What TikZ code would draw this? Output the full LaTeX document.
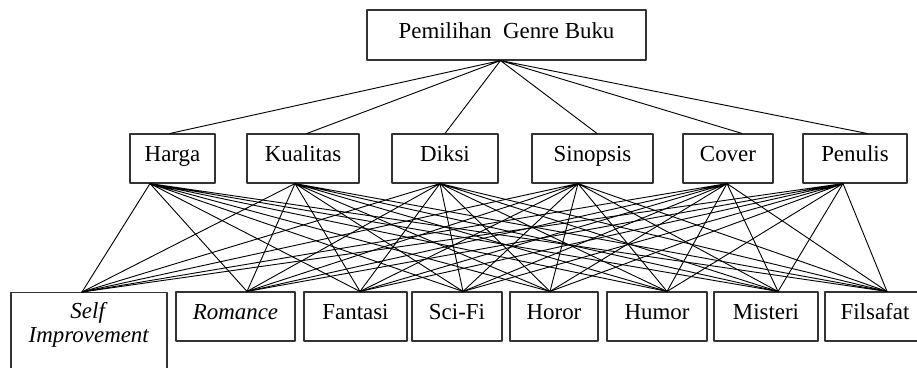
\documentclass[tikz,border=0pt]{standalone}
\usepackage{fontspec}
\setmainfont{Liberation Serif}
\usetikzlibrary{calc}

\tikzset{
  box/.style={draw=black!80, line width=0.8pt, rectangle, minimum height=49*0.025cm,
    inner sep=2pt, text height=0.7em, text depth=0.22em, font=\fontsize{16.3}{19}\selectfont},
  link/.style={line width=0.65pt, black}
}

\begin{document}
\begin{tikzpicture}[x=0.025cm, y=-0.025cm, line join = round, line cap = round]
  \useasboundingbox (0,0) rectangle (917,368);
  \clip (0,0) rectangle (917,368);
  % goal
  \node[box, minimum width=279*0.025cm, minimum height=50*0.025cm] (genre) at (506.5,35) {Pemilihan\ \ Genre Buku};
  % criteria
  \node[box, minimum width=85*0.025cm] (harga) at (172.5,158.5) {Harga};
  \node[box, minimum width=112*0.025cm] (kualitas) at (303,158.5) {Kualitas};
  \node[box, minimum width=106*0.025cm] (diksi) at (445,158.5) {Diksi};
  \node[box, minimum width=121*0.025cm] (sinopsis) at (592.5,158.5) {Sinopsis};
  \node[box, minimum width=90*0.025cm] (cover) at (728,158.5) {Cover};
  \node[box, minimum width=104*0.025cm] (penulis) at (855,158.5) {Penulis};
  % alternatives
  \node[box, anchor=north, align=center, minimum width=156*0.025cm, inner ysep=7pt,
    font=\fontsize{16.3}{17}\selectfont, text height=, text depth=60pt] (self) at (89,292) {\textit{Self}\\\textit{Improvement}};
  \node[box, minimum width=119*0.025cm] (romance) at (235.5,316.5) {\textit{Romance}};
  \node[box, minimum width=103*0.025cm] (fantasi) at (355.5,316.5) {Fantasi};
  \node[box, minimum width=90*0.025cm] (scifi) at (457,316.5) {Sci-Fi};
  \node[box, minimum width=88*0.025cm] (horor) at (554,316.5) {Horor};
  \node[box, minimum width=100*0.025cm] (humor) at (657,316.5) {Humor};
  \node[box, minimum width=104*0.025cm] (misteri) at (766,316.5) {Misteri};
  \node[box, minimum width=100*0.025cm] (filsafat) at (875,316.5) {Filsafat};

  % attach points
  \coordinate (genre-b) at ($(genre.south)+(-6,0)$);
  \coordinate (harga-t) at ($(harga.north)+(-2.5,0)$);
  \coordinate (harga-b) at ($(harga.south)+(-22.5,0)$);
  \coordinate (kualitas-t) at ($(kualitas.north)+(4,0)$);
  \coordinate (kualitas-b) at ($(kualitas.south)+(-8,0)$);
  \coordinate (diksi-t) at ($(diksi.north)+(0,0)$);
  \coordinate (diksi-b) at ($(diksi.south)+(-5,0)$);
  \coordinate (sinopsis-t) at ($(sinopsis.north)+(4.5,0)$);
  \coordinate (sinopsis-b) at ($(sinopsis.south)+(-14.5,0)$);
  \coordinate (cover-t) at ($(cover.north)+(14,0)$);
  \coordinate (cover-b) at ($(cover.south)+(-1,0)$);
  \coordinate (penulis-t) at ($(penulis.north)+(12,0)$);
  \coordinate (penulis-b) at ($(penulis.south)+(-12,0)$);
  \coordinate (self-t) at ($(self.north)+(-7,0)$);
  \coordinate (romance-t) at ($(romance.north)+(11.5,0)$);
  \coordinate (fantasi-t) at ($(fantasi.north)+(4.5,0)$);
  \coordinate (scifi-t) at ($(scifi.north)+(6,0)$);
  \coordinate (horor-t) at ($(horor.north)+(-4,0)$);
  \coordinate (humor-t) at ($(humor.north)+(10,0)$);
  \coordinate (misteri-t) at ($(misteri.north)+(12,0)$);
  \coordinate (filsafat-t) at ($(filsafat.north)+(12,0)$);

  % goal to criteria
  \draw[link] (genre-b) -- (harga-t) (genre-b) -- (kualitas-t) (genre-b) -- (diksi-t)
    (genre-b) -- (sinopsis-t) (genre-b) -- (cover-t) (genre-b) -- (penulis-t);
  % Harga
  \draw[link] (harga-b) -- (self-t) (harga-b) -- (romance-t) (harga-b) -- (fantasi-t) (harga-b) -- (scifi-t)
    (harga-b) -- (horor-t) (harga-b) -- (humor-t) (harga-b) -- (misteri-t) (harga-b) -- (filsafat-t);
  % Kualitas
  \draw[link] (kualitas-b) -- (self-t) (kualitas-b) -- (romance-t) (kualitas-b) -- (fantasi-t) (kualitas-b) -- (scifi-t)
    (kualitas-b) -- (horor-t) (kualitas-b) -- (humor-t) (kualitas-b) -- (misteri-t) (kualitas-b) -- (filsafat-t);
  % Diksi
  \draw[link] (diksi-b) -- (self-t) (diksi-b) -- (romance-t) (diksi-b) -- (fantasi-t) (diksi-b) -- (scifi-t)
    (diksi-b) -- (horor-t) (diksi-b) -- (humor-t) (diksi-b) -- (misteri-t) (diksi-b) -- (filsafat-t);
  % Sinopsis
  \draw[link] (sinopsis-b) -- (self-t) (sinopsis-b) -- (romance-t) (sinopsis-b) -- (fantasi-t) (sinopsis-b) -- (scifi-t)
    (sinopsis-b) -- (horor-t) (sinopsis-b) -- (humor-t) (sinopsis-b) -- (misteri-t) (sinopsis-b) -- (filsafat-t);
  % Cover
  \draw[link] (cover-b) -- (self-t) (cover-b) -- (romance-t) (cover-b) -- (fantasi-t) (cover-b) -- (scifi-t)
    (cover-b) -- (horor-t) (cover-b) -- (humor-t) (cover-b) -- (misteri-t) (cover-b) -- (filsafat-t);
  % Penulis
  \draw[link] (penulis-b) -- (self-t) (penulis-b) -- (romance-t) (penulis-b) -- (fantasi-t) (penulis-b) -- (scifi-t)
    (penulis-b) -- (horor-t) (penulis-b) -- (humor-t) (penulis-b) -- (misteri-t) (penulis-b) -- (filsafat-t);
\end{tikzpicture}
\end{document}
